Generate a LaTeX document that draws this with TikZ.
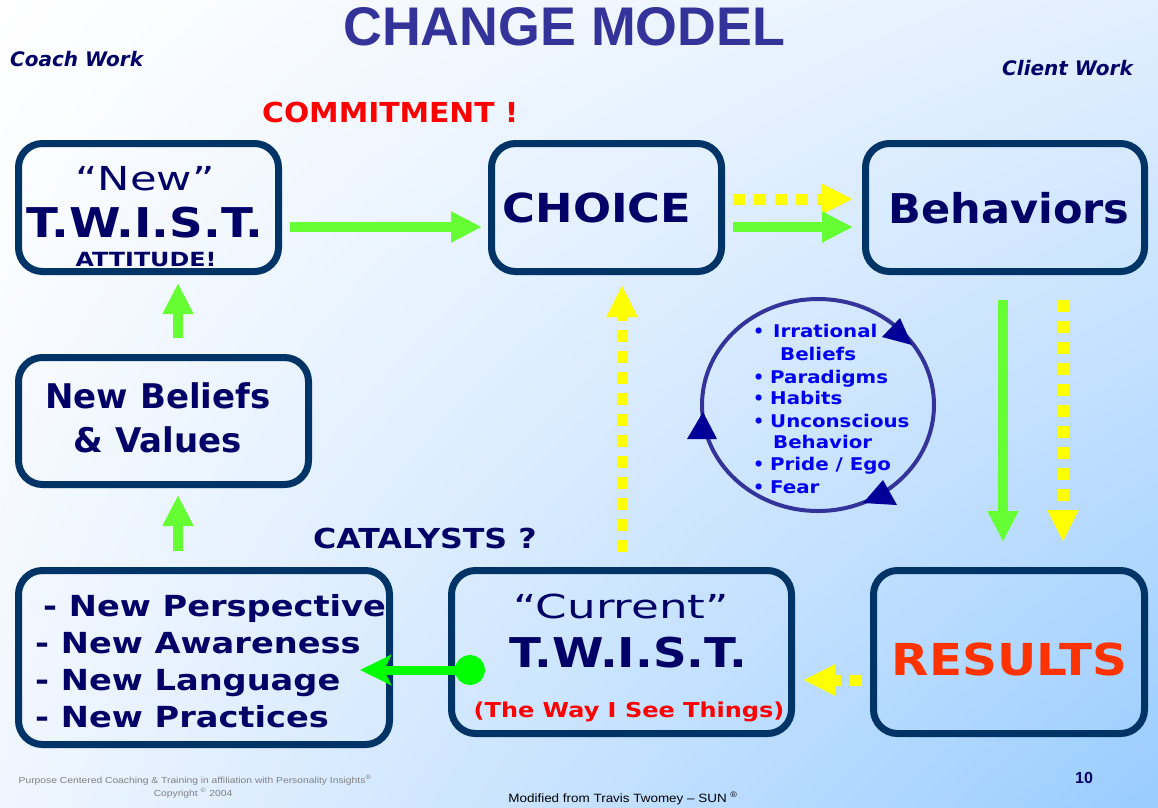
\documentclass[tikz,border=0pt]{standalone}
\usepackage{fontspec}
\setmainfont{DejaVu Sans}
\newfontfamily\titlefont{Liberation Sans}
\newfontfamily\footfont{Liberation Sans}
\usepackage{graphicx}
\usetikzlibrary{%
arrows.meta,
calc,
positioning,
shadings
}
\definecolor{navy}{HTML}{000066}
\definecolor{boxblue}{HTML}{003366}
\definecolor{titleblue}{HTML}{333399}
\definecolor{arrowgreen}{HTML}{66FF33}
\definecolor{brightgreen}{HTML}{00FF00}
\definecolor{dotyellow}{HTML}{FFFF00}
\definecolor{bulletblue}{HTML}{0000EE}
\definecolor{tipblue}{HTML}{000099}
\definecolor{resultred}{HTML}{FF3300}
\definecolor{skyblue}{HTML}{99CCFF}
\definecolor{paleblue}{HTML}{E2EFFF}
\definecolor{faintblue}{HTML}{F0F6FF}
% size and horizontal stretch of a label font
\newcommand{\fsz}[1]{\fontsize{#1}{#1}\selectfont}
\newcommand{\fst}[1]{\addfontfeature{FakeStretch=#1}}
\tikzset{
  stagebox/.style={draw=boxblue, line width=7pt, rounded corners=24pt, inner sep=0pt},
  lbl/.style={anchor=base, text=navy, inner sep=0pt},
  greenarrow/.style={draw=arrowgreen, line width=10pt, -{Triangle[length=31pt,width=29pt]}},
  yellowarrow/.style={draw=dotyellow, line width=11pt, dash pattern=on 12pt off 9pt, -{Triangle[length=32pt,width=29pt]}},
  ringline/.style={draw=titleblue, line width=4pt}
}
\begin{document}
\begin{tikzpicture}[x=1pt,y=-1pt]
    % background
    \shade[upper left=white, upper right=paleblue, lower left=faintblue, lower right=skyblue]
        (0,0) rectangle (1158,807);
    % headings
    \node[anchor=base west, inner sep=0pt, text=titleblue] (title) at (343,45)
        {\resizebox{442pt}{38pt}{\titlefont\bfseries CHANGE MODEL}};
    \node[lbl, anchor=base west, font=\bfseries\itshape\fsz{20}] (coach) at (10,66) {Coach Work};
    \node[lbl, anchor=base east, font=\bfseries\itshape\fsz{20}] (client) at (1133,75) {Client Work};
    \node[lbl, anchor=base west, text=red, font=\bfseries\fsz{27.5}\fst{1.08}] (commit) at (262,122) {COMMITMENT !};
    \node[lbl, anchor=base west, font=\bfseries\fsz{27.5}\fst{1.15}] (catalyst) at (313,548) {CATALYSTS ?};
    % stages
    \node[stagebox, minimum width=260pt, minimum height=128pt] (newtwist) at (148.5,207.5) {};
    \node[stagebox, minimum width=230pt, minimum height=128pt] (choice) at (606.5,207.5) {};
    \node[stagebox, minimum width=279pt, minimum height=128pt] (behav) at (1005,207.5) {};
    \node[stagebox, minimum width=290pt, minimum height=127pt] (beliefs) at (163.5,421) {};
    \node[stagebox, minimum width=371pt, minimum height=174pt] (persp) at (204,657.5) {};
    \node[stagebox, minimum width=340pt, minimum height=163pt] (current) at (621.5,652) {};
    \node[stagebox, minimum width=271pt, minimum height=163pt] (results) at (1009,652) {};
    % stage texts
    \node[lbl, font=\fsz{33}\fst{1.31}] (newq) at (145,190) {“New”};
    \node[lbl, font=\bfseries\fsz{41}\fst{1.14}] (newtw) at (145,237) {T.W.I.S.T.};
    \node[lbl, font=\bfseries\fsz{19.5}\fst{1.22}] (attitude) at (146,266) {ATTITUDE!};
    \node[lbl, font=\bfseries\fsz{40}\fst{1.12}] (choicetxt) at (597,222) {CHOICE};
    \node[lbl, font=\bfseries\fsz{41}\fst{1.05}] (behavtxt) at (1009,223) {Behaviors};
    \node[lbl, font=\bfseries\fsz{34}] (beliefs1) at (158,408) {New Beliefs};
    \node[lbl, font=\bfseries\fsz{34}] (beliefs2) at (158,452) {\& Values};
    \foreach \y/\x/\txt [count=\i] in {616/43/{- New Perspective},653/35/{- New Awareness},
                                   690/35/{- New Language},727/35/{- New Practices}}
        \node[lbl, anchor=base west, font=\bfseries\fsz{29}\fst{1.16}] (persp\i) at (\x,\y) {\txt};
    \node[lbl, font=\fsz{33}\fst{1.37}] (curq) at (621.5,618) {“Current”};
    \node[lbl, font=\bfseries\fsz{41}\fst{1.14}] (curtw) at (628.5,667) {T.W.I.S.T.};
    \node[lbl, text=red, font=\bfseries\fsz{20.5}\fst{1.17}] (curway) at (629,717) {(The Way I See Things)};
    \node[lbl, text=resultred, font=\bfseries\fsz{44}\fst{1.1}] (resulttxt) at (1009.5,675) {RESULTS};
    % connectors
    \draw[greenarrow] ($(newtwist.east)+(8,19.5)$) -- ($(choice.west)+(-6,19.5)$);
    \draw[yellowarrow] ($(choice.east)+(8,-8.5)$) -- ($(behav.west)+(-9,-8.5)$);
    \draw[greenarrow] ($(choice.east)+(8,19.5)$) -- ($(behav.west)+(-9,19.5)$);
    \draw[greenarrow] ($(behav.south)+(-2,25)$) -- ($(results.north)+(-6,-25)$);
    \draw[yellowarrow] ($(behav.south)+(58,25)$) -- ($(results.north)+(54,-25)$);
    \draw[yellowarrow] ($(results.west)+(-8,28)$) -- ($(current.east)+(8,28)$);
    \draw[yellowarrow] ($(current.north)+(0.5,-15)$) -- ($(choice.south)+(15.5,10)$);
    \draw[draw=brightgreen, line width=9pt, {Circle[length=30pt]}-{Stealth[length=31pt,width=30pt,inset=7pt]}]
        ($(current.west)+(37,18)$) -- ($(persp.east)+(-33,12.5)$);
    \draw[greenarrow] ($(persp.north)+(-26,-16)$) -- ($(beliefs.south)+(14.5,7)$);
    \draw[greenarrow] ($(beliefs.north)+(14.5,-16)$) -- ($(newtwist.south)+(29.5,8)$);
    % ring of obstacles
    \draw[ringline] (818,405) ellipse [x radius=116pt, y radius=106pt];
    \fill[tipblue] (900,318) -- (882,337) -- (912,345) -- cycle;
    \fill[tipblue] (703,412) -- (687,439) -- (717,439) -- cycle;
    \fill[tipblue] (883,480) -- (863,503) -- (897,505) -- cycle;
    \foreach \y/\x/\txt [count=\i] in {337/773/Irrational,360/780/Beliefs,383/770/Paradigms,404/770/Habits,
                                   427/770/Unconscious,448/773/Behavior,470/770/{Pride / Ego},493/770/Fear}
        \node[lbl, anchor=base west, text=bulletblue, font=\bfseries\fsz{17.5}\fst{1.13}] (ring\i) at (\x,\y) {\txt};
    \foreach \y [count=\i] in {337,383,404,427,470,493}
        \node[lbl, anchor=base west, text=bulletblue, font=\bfseries\fsz{17.5}] (dot\i) at (753,\y) {•};
    % footer
    \node[lbl, text=gray, font=\footfont\fsz{8.8}\fst{1.17}] (foot1) at (195,783)
        {Purpose Centered Coaching \& Training in affiliation with Personality Insights\textsuperscript{®}};
    \node[lbl, text=gray, font=\footfont\fsz{8.8}\fst{1.17}] (foot2) at (193,796) {Copyright \textsuperscript{©} 2004};
    \node[lbl, text=black, font=\footfont\fsz{12}\fst{1.12}] (foot3) at (623,802) {Modified from Travis Twomey – SUN \textsuperscript{®}};
    \node[lbl, font=\footfont\bfseries\fsz{16}] (page) at (1084,783) {10};
\end{tikzpicture}
\end{document}
